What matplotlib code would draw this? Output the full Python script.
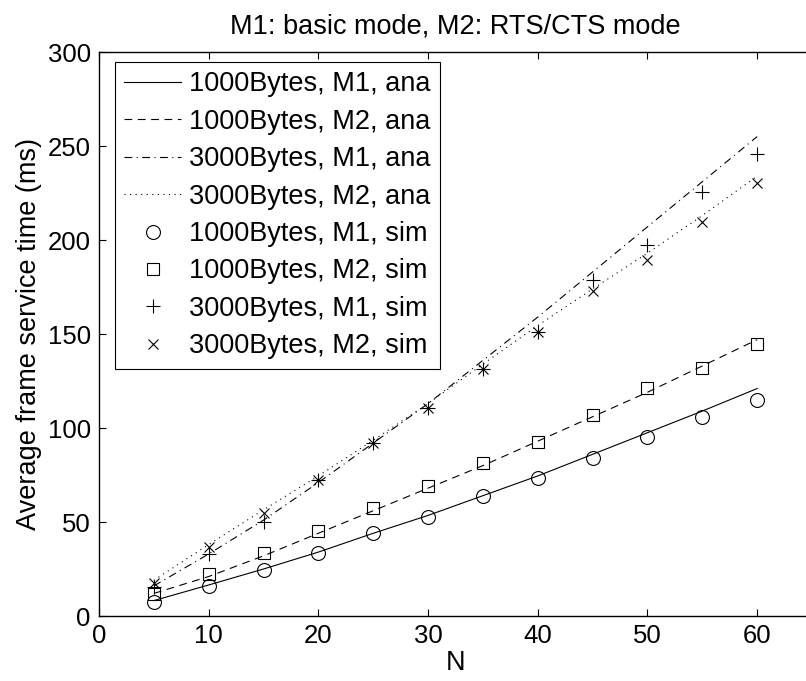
import matplotlib
matplotlib.use("Agg")
import matplotlib.pyplot as plt

plt.rcParams['font.family'] = ['Liberation Sans', 'DejaVu Sans']

N = [5, 10, 15, 20, 25, 30, 35, 40, 45, 50, 55, 60]

ana_1000_m1 = [8.2, 16.5, 25.0, 34.0, 44.0, 53.5, 64.0, 74.5, 86.0, 97.5, 109.0, 121.0]
ana_1000_m2 = [12.0, 21.0, 32.0, 44.0, 56.0, 68.0, 80.0, 93.0, 106.0, 119.0, 133.0, 147.0]
ana_3000_m1 = [16.0, 33.0, 51.0, 71.0, 92.0, 113.0, 136.0, 159.0, 183.0, 207.0, 231.0, 255.0]
ana_3000_m2 = [19.0, 38.0, 56.5, 74.5, 93.5, 113.0, 134.0, 154.5, 174.0, 193.0, 213.0, 234.0]

sim_1000_m1 = [7.6, 16.1, 24.5, 33.5, 43.9, 52.8, 63.8, 73.2, 84.2, 95.4, 106.0, 115.0]
sim_1000_m2 = [11.5, 22.3, 33.7, 45.4, 57.6, 69.3, 81.2, 92.6, 107.1, 121.1, 131.7, 144.5]
sim_3000_m1 = [15.6, 33.0, 50.2, 72.3, 91.8, 110.6, 131.2, 151.2, 178.9, 197.3, 225.7, 245.6]
sim_3000_m2 = [17.4, 36.9, 54.6, 72.3, 91.8, 110.6, 131.2, 151.2, 173.0, 189.4, 209.7, 230.5]

labels = ['1000Bytes, M1, ana', '1000Bytes, M2, ana', '3000Bytes, M1, ana', '3000Bytes, M2, ana',
          '1000Bytes, M1, sim', '1000Bytes, M2, sim', '3000Bytes, M1, sim', '3000Bytes, M2, sim']

title = 'M1: basic mode, M2: RTS/CTS mode'
xlabel = 'N'
ylabel = 'Average frame service time (ms)'
xticks = [0, 10, 20, 30, 40, 50, 60]
yticks = [0, 50, 100, 150, 200, 250, 300]

fig = plt.figure(figsize=(8.06, 6.81), dpi=100)
W, H = 806, 681
left, right, bottom, top = 99, 812, 616, 52
ax = fig.add_axes([left / W, (H - bottom) / H, (right - left) / W, (bottom - top) / H])

lw = 0.8
ax.plot(N, ana_1000_m1, color='k', lw=lw, ls='-', label=labels[0])
ax.plot(N, ana_1000_m2, color='k', lw=lw, ls=(0, (7, 5)), label=labels[1])
ax.plot(N, ana_3000_m1, color='k', lw=lw, ls=(0, (7, 4, 1, 4)), label=labels[2])
ax.plot(N, ana_3000_m2, color='k', lw=lw, ls=(0, (1, 4)), label=labels[3])

ax.plot(N, sim_1000_m1, ls='none', marker='o', mfc='none', mec='k', ms=10, mew=lw, label=labels[4])
ax.plot(N, sim_1000_m2, ls='none', marker='s', mfc='none', mec='k', ms=8.4, mew=lw, label=labels[5])
ax.plot(N, sim_3000_m1, ls='none', marker='+', color='k', ms=10, mew=lw, label=labels[6])
ax.plot(N, sim_3000_m2, ls='none', marker='x', color='k', ms=7.5, mew=lw, label=labels[7])

ax.set_xlim(0, 65)
ax.set_ylim(0, 300)
ax.set_xticks(xticks)
ax.set_yticks(yticks)
ax.tick_params(direction='in', length=5, width=0.8, top=True, right=False, labelsize=18.5, pad=6)
for s in ax.spines.values():
    s.set_linewidth(1.0)

ax.set_title(title, fontsize=19.5, pad=13)
ax.set_xlabel(xlabel, fontsize=19.5, labelpad=1)
ax.set_ylabel(ylabel, fontsize=19.5, labelpad=4)

leg = ax.legend(loc='upper left', bbox_to_anchor=((115 - left) / (right - left), (bottom - 62) / (bottom - top)),
                fontsize=19.5, frameon=True, fancybox=False, edgecolor='k', framealpha=1,
                borderpad=0.35, labelspacing=0.42, handlelength=2.1, handletextpad=0.3, borderaxespad=0)
leg.get_frame().set_linewidth(0.8)

fig.savefig('out.png', dpi=100)
